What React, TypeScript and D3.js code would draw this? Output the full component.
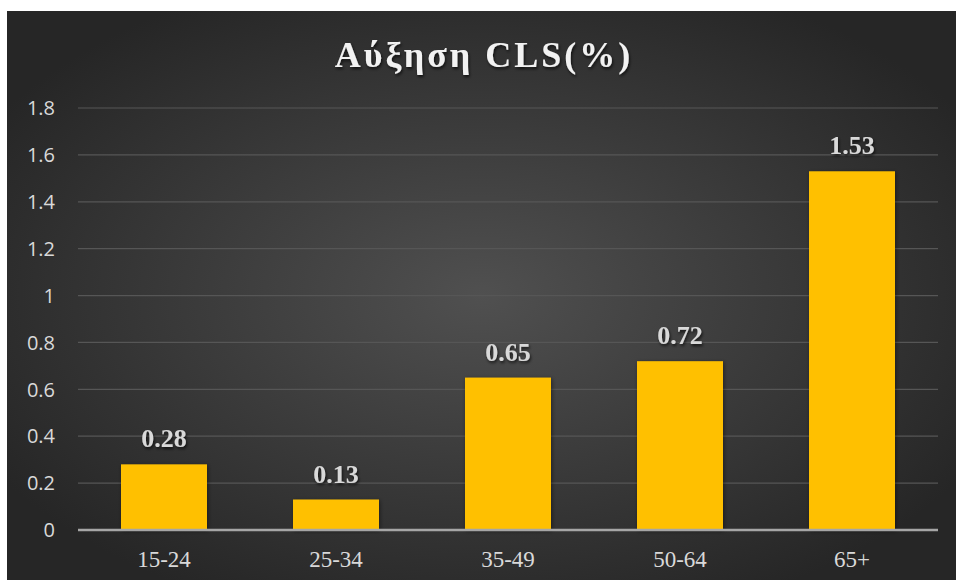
import React from "react";
import * as d3 from "d3";

const categories = ["15-24", "25-34", "35-49", "50-64", "65+"];
const values = [0.28, 0.13, 0.65, 0.72, 1.53];
const yTicks = [0, 0.2, 0.4, 0.6, 0.8, 1, 1.2, 1.4, 1.6, 1.8];
const title = "Αύξηση CLS(%)";

export default function App() {
  const W = 956, H = 580;
  const left = 78, right = 938, top = 108, bottom = 530;
  const x = d3.scaleBand<string>().domain(categories).range([left, right]).paddingInner(0.5).paddingOuter(0.25);
  const y = d3.scaleLinear().domain([0, 1.8]).range([bottom, top]);
  return (
    <svg width={W} height={H} style={{ position: "absolute", left: 0, top: 0 }}>
      <defs>
        <radialGradient id="bg" cx="50%" cy="50%" r="60%">
          <stop offset="0%" stopColor="#505050" />
          <stop offset="100%" stopColor="#262626" />
        </radialGradient>
        <filter id="ts" x="-10%" y="-20%" width="120%" height="150%">
          <feDropShadow dx="1" dy="2" stdDeviation="1.5" floodColor="#000" floodOpacity="0.7" />
        </filter>
        <filter id="bs" x="-20%" y="-10%" width="140%" height="120%">
          <feDropShadow dx="1" dy="1" stdDeviation="2" floodColor="#000" floodOpacity="0.45" />
        </filter>
      </defs>
      <rect x={0} y={0} width={W} height={H} fill="#fff" />
      <rect x={7} y={11} width={W - 7} height={H - 11} fill="url(#bg)" />
      <text x={484} y={67} textAnchor="middle" fontFamily="Liberation Serif, serif" fontWeight="bold" fontSize={36}
        letterSpacing={3} fill="#f2f2f2" filter="url(#ts)">{title}</text>
      {yTicks.map((t) => (
        <g key={t}>
          {t !== 0 && <line x1={left} x2={right} y1={y(t)} y2={y(t)} stroke="#565656" strokeWidth={1.2} />}
          <text x={55} y={y(t)} dy="0.36em" textAnchor="end" fontFamily="Open Sans, sans-serif" fontSize={20} fill="#d9d9d9">
            {String(t)}
          </text>
        </g>
      ))}
      {categories.map((c, i) => (
        <g key={c}>
          <rect x={x(c)} y={y(values[i])} width={x.bandwidth()} height={bottom - y(values[i])} fill="#FFC000" filter="url(#bs)" />
          <text x={x(c)! + x.bandwidth() / 2} y={y(values[i]) - 17} textAnchor="middle" fontFamily="Liberation Serif, serif"
            fontWeight="bold" fontSize={26} fill="#d9d9d9" filter="url(#ts)">{values[i].toFixed(2)}</text>
          <text x={x(c)! + x.bandwidth() / 2} y={567} textAnchor="middle" fontFamily="Liberation Serif, serif"
            fontSize={23} fill="#d9d9d9">{c}</text>
        </g>
      ))}
      <line x1={left} x2={right} y1={bottom} y2={bottom} stroke="#a6a6a6" strokeWidth={2.5} />
    </svg>
  );
}
